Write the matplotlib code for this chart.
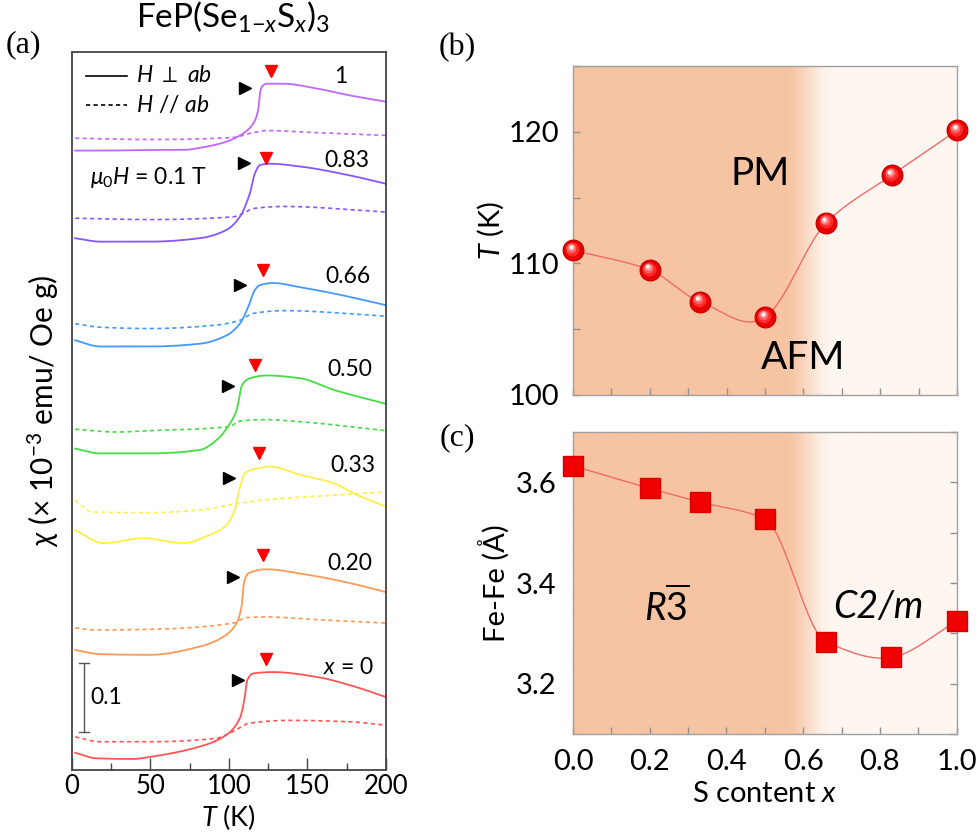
import numpy as np
import matplotlib
matplotlib.use('Agg')
import matplotlib.pyplot as plt
from matplotlib.ticker import MultipleLocator
from matplotlib.transforms import offset_copy

plt.rcParams['font.family'] = ['Lato', 'DejaVu Sans']
plt.rcParams['mathtext.fontset'] = 'custom'
plt.rcParams['mathtext.rm'] = 'Lato'
plt.rcParams['mathtext.it'] = 'Lato:italic'
plt.rcParams['mathtext.bf'] = 'Lato:bold'

# ---- panel (a): chi(T) curves, offset for clarity (units 1e-3 emu/Oe g)
comp_labels = ['1', '0.83', '0.66', '0.50', '0.33', '0.20', r'$x$ = 0']
comp_colors = ['#C266FF', '#8855FF', '#4499FF', '#44DD44', '#FFEE44', '#FF9955', '#FF5555']

T_perp_100 = [2, 20, 49.6, 71, 81.5, 98.5, 109.1, 115.5, 118.7, 119.8, 120.9, 124, 134.7, 156, 177.2, 200]
chi_perp_100 = [0.898, 0.898, 0.899, 0.899, 0.902, 0.911, 0.923, 0.937, 0.957, 0.981, 0.990, 0.995,
                0.995, 0.988, 0.978, 0.969]
T_par_100 = [2, 49.6, 102.8, 113.4, 124, 156, 200]
chi_par_100 = [0.916, 0.914, 0.917, 0.923, 0.927, 0.924, 0.920]

T_perp_083 = [2, 18, 49.6, 81.5, 98.5, 107, 113.4, 116.6, 119.8, 126.2, 145.3, 177.2, 200]
chi_perp_083 = [0.771, 0.766, 0.766, 0.771, 0.783, 0.802, 0.836, 0.865, 0.877, 0.879, 0.875, 0.862, 0.850]
T_par_083 = [2, 49.6, 102.8, 109.1, 115.5, 134.7, 200]
chi_par_083 = [0.800, 0.798, 0.802, 0.807, 0.814, 0.817, 0.809]

T_perp_066 = [2, 18, 49.6, 81.5, 98.5, 107, 112.3, 116.6, 119.8, 128.3, 145.3, 166.6, 200]
chi_perp_066 = [0.623, 0.614, 0.614, 0.618, 0.630, 0.647, 0.671, 0.696, 0.703, 0.706, 0.700, 0.691, 0.674]
T_par_066 = [2, 18, 49.6, 92, 107, 115.5, 134.7, 200]
chi_par_066 = [0.647, 0.642, 0.640, 0.645, 0.652, 0.662, 0.666, 0.658]

T_perp_050 = [2, 18, 49.6, 81.5, 92, 100.6, 105, 108.1, 110, 113.4, 124, 145.3, 167, 200]
chi_perp_050 = [0.466, 0.459, 0.459, 0.464, 0.478, 0.502, 0.522, 0.556, 0.563, 0.568, 0.572, 0.568,
                0.551, 0.531]
T_par_050 = [2, 28, 49.6, 100.6, 107, 124, 145.3, 200]
chi_par_050 = [0.494, 0.490, 0.492, 0.498, 0.506, 0.508, 0.505, 0.492]

T_perp_033 = [2, 20, 45, 70.9, 88, 98.5, 103.8, 106.6, 110.2, 117.7, 126.2, 145.3, 166.6, 181.5, 200]
chi_perp_033 = [0.348, 0.329, 0.336, 0.329, 0.341, 0.355, 0.377, 0.406, 0.430, 0.437, 0.440, 0.428,
                0.416, 0.399, 0.382]
T_par_033 = [2, 13.4, 49.6, 81.5, 104.9, 124, 156, 200]
chi_par_033 = [0.391, 0.374, 0.373, 0.377, 0.386, 0.392, 0.397, 0.403]

T_perp_020 = [2, 18, 49.6, 81.5, 96.4, 104.9, 108.1, 109.6, 112.3, 124, 145.3, 177.2, 200]
chi_perp_020 = [0.174, 0.168, 0.167, 0.179, 0.193, 0.213, 0.237, 0.271, 0.285, 0.291, 0.285, 0.271, 0.258]
T_par_020 = [2, 15.5, 49.6, 102.8, 111.3, 124, 156, 200]
chi_par_020 = [0.206, 0.203, 0.204, 0.213, 0.221, 0.222, 0.218, 0.213]

T_perp_000 = [2, 15.5, 39, 49.6, 81.5, 98.5, 107, 110.2, 111.7, 115.5, 128.3, 156, 177.2, 200]
chi_perp_000 = [0.025, 0.017, 0.016, 0.019, 0.034, 0.051, 0.075, 0.106, 0.130, 0.140, 0.142, 0.135,
                0.123, 0.106]
T_par_000 = [2, 18, 49.6, 92, 102.8, 113.4, 139, 177.2, 200]
chi_par_000 = [0.048, 0.041, 0.041, 0.046, 0.056, 0.068, 0.072, 0.070, 0.065]

# arrow markers (transition temperatures)
T_black = [110.2, 109.8, 107.4, 99.6, 100.2, 102.8, 106.0]
chi_black = [0.989, 0.880, 0.703, 0.557, 0.424, 0.280, 0.130]
T_red = [126.6, 123.4, 121.9, 116.6, 119.4, 121.9, 123.4]
chi_red = [1.014, 0.887, 0.725, 0.587, 0.460, 0.312, 0.161]
# composition label positions
T_lab = [171.3, 175.1, 176.1, 176.8, 179.3, 177.2, 176.1]
chi_lab = [1.006, 0.884, 0.715, 0.580, 0.442, 0.300, 0.149]

# ---- panel (b) / (c)
s_content = [0.0, 0.2, 0.33, 0.5, 0.66, 0.83, 1.0]
T_order = [111.0, 109.5, 107.1, 105.9, 113.1, 116.7, 120.1]
fe_fe = [3.633, 3.588, 3.561, 3.527, 3.283, 3.252, 3.324]


def smooth(x, y, n=30, monotone=False):
    # cubic Hermite line through the points (drawing only)
    x = np.asarray(x, float)
    y = np.asarray(y, float)
    h = np.diff(x)
    d = np.diff(y) / h
    m = np.zeros_like(y)
    m[0], m[-1] = d[0], d[-1]
    for k in range(1, len(x) - 1):
        if d[k - 1] * d[k] > 0:
            w1 = 2 * h[k] + h[k - 1]
            w2 = h[k] + 2 * h[k - 1]
            m[k] = (w1 + w2) / (w1 / d[k - 1] + w2 / d[k])
        elif monotone:
            m[k] = 0.0
        else:
            m[k] = 0.5 * (d[k - 1] + d[k])
    xs, ys = [], []
    t = np.linspace(0, 1, n)
    h00 = 2 * t**3 - 3 * t**2 + 1
    h10 = t**3 - 2 * t**2 + t
    h01 = -2 * t**3 + 3 * t**2
    h11 = t**3 - t**2
    for i in range(len(x) - 1):
        xs.append(x[i] + t * h[i])
        ys.append(h00 * y[i] + h10 * h[i] * m[i] + h01 * y[i + 1] + h11 * h[i] * m[i + 1])
    return np.concatenate(xs), np.concatenate(ys)


def background(ax, ylo, yhi):
    xg = np.linspace(0, 1, 500)
    orange = np.array([246, 196, 162]) / 255
    pale = np.array([254, 246, 240]) / 255
    w = np.clip((xg - 0.55) / 0.13, 0, 1)
    w = w * w * (3 - 2 * w)
    img = orange[None, :] * (1 - w[:, None]) + pale[None, :] * w[:, None]
    ax.imshow(img[None, :, :], extent=[0, 1, ylo, yhi], aspect='auto', zorder=0,
              interpolation='bilinear')


fig = plt.figure(figsize=(9.79, 8.34), dpi=100)

# ================= (a)
ax_a = fig.add_axes([0.0735, 0.0767, 0.3205, 0.861])
perp_T = [T_perp_100, T_perp_083, T_perp_066, T_perp_050, T_perp_033, T_perp_020, T_perp_000]
perp_chi = [chi_perp_100, chi_perp_083, chi_perp_066, chi_perp_050, chi_perp_033, chi_perp_020, chi_perp_000]
par_T = [T_par_100, T_par_083, T_par_066, T_par_050, T_par_033, T_par_020, T_par_000]
par_chi = [chi_par_100, chi_par_083, chi_par_066, chi_par_050, chi_par_033, chi_par_020, chi_par_000]

for i in range(len(comp_labels)):
    xs, ys = smooth(perp_T[i], perp_chi[i], monotone=True)
    ax_a.plot(xs, ys, color=comp_colors[i], lw=1.3)
    xs, ys = smooth(par_T[i], par_chi[i], monotone=True)
    ax_a.plot(xs, ys, color=comp_colors[i], lw=1.2, ls=(0, (2.5, 2)))
    ax_a.text(T_lab[i], chi_lab[i], comp_labels[i], ha='center', va='center', fontsize=16.5)

ax_a.plot(T_black, chi_black, ls='none', marker='>', color='black', ms=8.5)
ax_a.plot(T_red, chi_red, ls='none', marker='v', color='red', ms=8.5)

# scale bar 0.1
bar_T, bar_lo = 7.7, 0.055
ax_a.plot([bar_T, bar_T], [bar_lo, bar_lo + 0.1], color='#555555', lw=1)
ax_a.plot([bar_T - 3.2, bar_T + 3.2], [bar_lo, bar_lo], color='#555555', lw=1)
ax_a.plot([bar_T - 3.2, bar_T + 3.2], [bar_lo + 0.1, bar_lo + 0.1], color='#555555', lw=1)
ax_a.text(bar_T + 4, bar_lo + 0.05, '0.1', ha='left', va='center', fontsize=16.5)

# legend
ax_a.plot([0.044, 0.174], [0.9666, 0.9666], color='black', lw=1.2, transform=ax_a.transAxes)
ax_a.plot([0.044, 0.174], [0.926, 0.926], color='black', lw=1.2, ls=(0, (2.5, 2)),
          transform=ax_a.transAxes)
ax_a.text(0.205, 0.9666, r'$H$ $\perp$ $ab$', transform=ax_a.transAxes, ha='left', va='center', fontsize=16.5)
ax_a.text(0.205, 0.926, r'$H$ // $ab$', transform=ax_a.transAxes, ha='left', va='center', fontsize=16.5)
ax_a.text(0.056, 0.8245, r'$\mu_0H$ = 0.1 T', transform=ax_a.transAxes, ha='left', va='center', fontsize=16.5)

ax_a.set_xlim(0, 200)
ax_a.set_ylim(0, 1.041)
ax_a.xaxis.set_major_locator(MultipleLocator(50))
ax_a.xaxis.set_minor_locator(MultipleLocator(25))
ax_a.set_yticks([])
ax_a.tick_params(axis='x', which='major', direction='in', length=9, width=1, color='#444444',
                 labelsize=18.5, pad=3)
ax_a.tick_params(axis='x', which='minor', direction='in', length=5, width=1, color='#444444')
for sp in ax_a.spines.values():
    sp.set_color('#444444')
    sp.set_linewidth(1.3)
ax_a.set_xlabel(r'$T$ (K)', fontsize=19.5, labelpad=2)
ax_a.set_ylabel(r'$\chi$ (× 10$^{-3}$ emu/ Oe g)', fontsize=21.5, labelpad=8)

fig.text(0.238, 0.9664, r'FeP(Se$_{1\mathregular{-}x}$S$_x$)$_3$', ha='center', va='baseline', fontsize=24)


def spheres(ax, x, y):
    ax.plot(x, y, ls='none', marker='o', ms=15, color='#E80000', mec='#C00000', mew=0.8,
            zorder=4, clip_on=False)
    layers = [(10, '#FF2A2A', -0.6, 0.9), (7, '#FF6060', -1.1, 1.6),
              (4.5, '#FFA8A8', -1.5, 2.2), (2.5, '#FFFFFF', -1.7, 2.6)]
    for ms, col, dx, dy in layers:
        tr = offset_copy(ax.transData, fig=fig, x=dx, y=dy, units='points')
        ax.plot(x, y, ls='none', marker='o', ms=ms, color=col, mew=0, zorder=5,
                transform=tr, clip_on=False)


def style_xy(ax):
    for sp in ax.spines.values():
        sp.set_color('#A0A0A0')
        sp.set_linewidth(1.0)
        sp.set_zorder(3)
    ax.xaxis.set_major_locator(MultipleLocator(0.2))
    ax.xaxis.set_minor_locator(MultipleLocator(0.1))
    ax.tick_params(which='both', direction='in', length=5, width=1, color='#909090',
                   labelcolor='black', labelsize=21)


# ================= (b)
ax_b = fig.add_axes([0.5853, 0.5264, 0.3922, 0.3945])
background(ax_b, 100, 125)
xs, ys = smooth(s_content, T_order)
ax_b.plot(xs, ys, color='#F06A6A', lw=1, zorder=2)
spheres(ax_b, s_content, T_order)
ax_b.set_xlim(0, 1)
ax_b.set_ylim(100, 125)
style_xy(ax_b)
ax_b.set_yticks([100, 110, 120])
ax_b.yaxis.set_minor_locator(MultipleLocator(5))
ax_b.tick_params(axis='x', labelbottom=False)
ax_b.tick_params(axis='y', pad=10)
ax_b.set_ylabel(r'$T$ (K)', fontsize=21, labelpad=2)
ax_b.text(0.488, 116.8, 'PM', ha='center', va='center', fontsize=28)
ax_b.text(0.598, 102.8, 'AFM', ha='center', va='center', fontsize=28)

# ================= (c)
ax_c = fig.add_axes([0.5853, 0.1199, 0.3918, 0.3621])
background(ax_c, 3.1, 3.7)
xs, ys = smooth(s_content, fe_fe)
ax_c.plot(xs, ys, color='#F06A6A', lw=1, zorder=2)
ax_c.plot(s_content, fe_fe, ls='none', marker='s', ms=14, color='#F00000', mec='#D80000',
          zorder=4, clip_on=False)
ax_c.set_xlim(0, 1)
ax_c.set_ylim(3.1, 3.7)
style_xy(ax_c)
ax_c.set_yticks([3.2, 3.4, 3.6])
ax_c.yaxis.set_minor_locator(MultipleLocator(0.1))
ax_c.tick_params(axis='y', which='both', left=False, right=True, labelleft=True, pad=12)
ax_c.tick_params(axis='x', pad=11)
ax_c.set_ylabel('Fe-Fe (Å)', fontsize=21, labelpad=4)
ax_c.set_xlabel(r'S content $x$', fontsize=21, labelpad=4)
ax_c.text(0.244, 3.352, r'$\mathit{R\overline{3}}$', ha='center', va='center', fontsize=27)
ax_c.text(0.796, 3.352, 'C2/m', ha='center', va='center', fontsize=27, style='italic')

# panel letters
fig.text(0.0235, 0.946, '(a)', family='Liberation Serif', fontsize=23, ha='center', va='center')
fig.text(0.4674, 0.9424, '(b)', family='Liberation Serif', fontsize=23, ha='center', va='center')
fig.text(0.4674, 0.4748, '(c)', family='Liberation Serif', fontsize=23, ha='center', va='center')

fig.savefig('out.png', dpi=100)
